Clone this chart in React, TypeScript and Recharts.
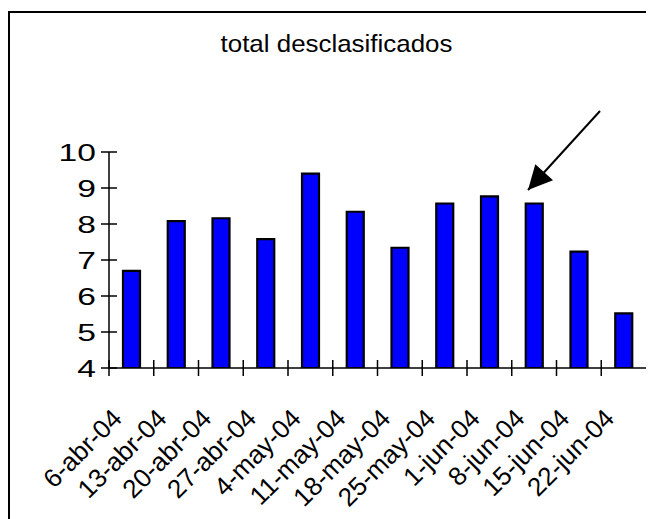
import { BarChart, Bar, XAxis, YAxis } from 'recharts'

// Semanas y total de desclasificados
const categories = [
  '6-abr-04', '13-abr-04', '20-abr-04', '27-abr-04', '4-may-04', '11-may-04',
  '18-may-04', '25-may-04', '1-jun-04', '8-jun-04', '15-jun-04', '22-jun-04',
]
const totals = [6.7, 8.08, 8.16, 7.58, 9.4, 8.34, 7.34, 8.57, 8.77, 8.57, 7.23, 5.52]
const yTicks = [4, 5, 6, 7, 8, 9, 10]

const data = categories.map((date, i) => ({ date, total: totals[i] }))

const W = 646
const H = 508
const MARGIN = { top: 141, right: 8, left: 0, bottom: 0 }
const Y_W = 101
const BAND = (W - MARGIN.right - Y_W) / categories.length
const FONT = '"Liberation Sans", Arial, sans-serif'

function XTick({ x, y, payload }: any) {
  const lx = x - BAND / 2
  const ax = x - 8
  const ay = y + 52
  return (
    <g>
      <line x1={lx} x2={lx} y1={y - 8} y2={y + 8} stroke="#000" strokeWidth={1.5} />
      <text
        x={ax}
        y={ay}
        textAnchor="end"
        fontSize={26}
        fontFamily={FONT}
        fill="#000"
        transform={`rotate(-45, ${ax}, ${ay})`}
      >
        {payload.value}
      </text>
    </g>
  )
}

function YTick({ x, y, payload }: any) {
  const tx = x - 13
  return (
    <g>
      <line x1={x - 8} x2={x + 8} y1={y} y2={y} stroke="#000" strokeWidth={1.5} />
      <text
        x={tx}
        y={y}
        dy="0.36em"
        textAnchor="end"
        fontSize={24}
        fontFamily={FONT}
        fill="#000"
        transform={`translate(${tx}, 0) scale(1.4, 1) translate(${-tx}, 0)`}
      >
        {payload.value}
      </text>
    </g>
  )
}

export default function App() {
  return (
    <div style={{ position: 'relative', marginTop: 3, width: W, height: H, overflow: 'hidden' }}>
      <div
        style={{
          position: 'absolute', left: 0, top: 0, width: 700, height: 600,
          border: '2px solid #000', boxSizing: 'border-box',
        }}
      />
      <BarChart width={W} height={H} data={data} margin={MARGIN}>
        <XAxis
          dataKey="date"
          interval={0}
          height={151}
          tickSize={0}
          tickMargin={0}
          tickLine={false}
          tick={<XTick />}
          axisLine={{ stroke: '#000', strokeWidth: 1.5 }}
        />
        <XAxis
          xAxisId="top"
          dataKey="date"
          orientation="top"
          height={0}
          tick={false}
          tickLine={false}
          axisLine={{ stroke: '#808080', strokeWidth: 2 }}
        />
        <YAxis
          domain={[4, 10]}
          ticks={yTicks}
          width={Y_W}
          tickSize={0}
          tickMargin={0}
          tickLine={false}
          tick={<YTick />}
          axisLine={{ stroke: '#000', strokeWidth: 1.5 }}
          allowDataOverflow
        />
        <YAxis
          yAxisId="right"
          orientation="right"
          domain={[4, 10]}
          width={0}
          tick={false}
          tickLine={false}
          axisLine={{ stroke: '#808080', strokeWidth: 2 }}
        />
        <Bar
          dataKey="total"
          fill="#0000ff"
          stroke="#000"
          strokeWidth={2.2}
          barSize={17}
          isAnimationActive={false}
        />
      </BarChart>
      <svg
        width={W}
        height={H}
        style={{ position: 'absolute', left: 0, top: 0, pointerEvents: 'none' }}
      >
        <defs>
          <marker id="head" viewBox="0 0 10 10" refX="10" refY="5" markerWidth="13" markerHeight="12" orient="auto">
            <path d="M0,0 L10,5 L0,10 z" fill="#000" />
          </marker>
        </defs>
        <text
          x={328.5}
          y={41}
          textAnchor="middle"
          fontSize={24}
          fontFamily={FONT}
          fill="#000"
          transform="translate(328.5, 0) scale(1.08, 1) translate(-328.5, 0)"
        >
          total desclasificados
        </text>
        <line x1={592} y1={100} x2={520} y2={179} stroke="#000" strokeWidth={2} markerEnd="url(#head)" />
      </svg>
    </div>
  )
}
